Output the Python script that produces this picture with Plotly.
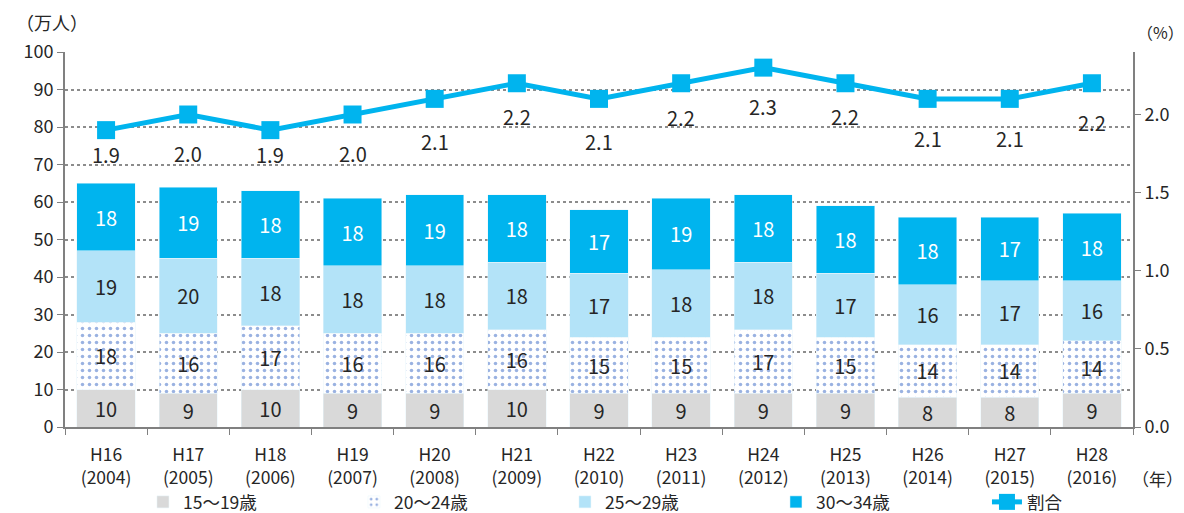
import plotly.graph_objects as go

# Fiscal years (Heisei era with Western year)
years = ["H16<br>(2004)", "H17<br>(2005)", "H18<br>(2006)", "H19<br>(2007)", "H20<br>(2008)",
         "H21<br>(2009)", "H22<br>(2010)", "H23<br>(2011)", "H24<br>(2012)", "H25<br>(2013)",
         "H26<br>(2014)", "H27<br>(2015)", "H28<br>(2016)"]

# Counts by age group (10,000 persons)
age_15_19 = [10, 9, 10, 9, 9, 10, 9, 9, 9, 9, 8, 8, 9]
age_20_24 = [18, 16, 17, 16, 16, 16, 15, 15, 17, 15, 14, 14, 14]
age_25_29 = [19, 20, 18, 18, 18, 18, 17, 18, 18, 17, 16, 17, 16]
age_30_34 = [18, 19, 18, 18, 19, 18, 17, 19, 18, 18, 18, 17, 18]

# Share (%)
ratio = [1.9, 2.0, 1.9, 2.0, 2.1, 2.2, 2.1, 2.2, 2.3, 2.2, 2.1, 2.1, 2.2]

# Vertical drop (px) of each share label below its marker
ratio_label_drop = [24, 39, 24, 39, 43, 33, 43, 34, 39, 33, 40, 40, 39]

FONT = "Noto Sans CJK JP"
TXT = "#262626"
BLUE = "#00b4ee"

fig = go.Figure()

def add_bar(name, values, color, txtcolor, pattern=None):
    fig.add_trace(go.Bar(
        x=years, y=values, name=name,
        marker=dict(color=color, line=dict(width=0.5, color="#e8f6fc"), pattern=pattern),
        text=[str(v) for v in values], textposition="inside", insidetextanchor="middle",
        textangle=0, constraintext="none",
        textfont=dict(size=20, color=txtcolor, family=FONT),
        width=0.71,
    ))

add_bar("15～19歳", age_15_19, "#d9d9d9", TXT)
add_bar("20～24歳", age_20_24, "#ffffff", TXT,
        pattern=dict(shape=".", fgcolor="#3566c4", bgcolor="#ffffff", size=7, solidity=0.2))
add_bar("25～29歳", age_25_29, "#b3e3f8", TXT)
add_bar("30～34歳", age_30_34, BLUE, "#ffffff")

fig.add_trace(go.Scatter(
    x=years, y=ratio, name="割合", yaxis="y2",
    mode="lines+markers",
    line=dict(color=BLUE, width=5),
    marker=dict(symbol="square", size=18, color=BLUE),
))

annotations = [
    dict(text=f"{v:.1f}", x=yr, y=v, xref="x", yref="y2", showarrow=False,
         yanchor="middle", yshift=-d, font=dict(size=20, color=TXT))
    for yr, v, d in zip(years, ratio, ratio_label_drop)
]
annotations += [
    dict(text="（万人）", x=-0.012, y=1.08, xref="paper", yref="paper", showarrow=False,
         xanchor="center", yanchor="middle", font=dict(size=18, color=TXT)),
    dict(text="（%）", x=1.0253, y=1.053, xref="paper", yref="paper", showarrow=False,
         xanchor="center", yanchor="middle", font=dict(size=16, color=TXT)),
    dict(text="（年）", x=1.0234, y=-0.136, xref="paper", yref="paper", showarrow=False,
         xanchor="center", yanchor="middle", font=dict(size=17, color=TXT)),
]

fig.update_layout(
    width=1184, height=513,
    margin=dict(l=65, r=51, t=52, b=86, autoexpand=False),
    barmode="stack",
    plot_bgcolor="#ffffff", paper_bgcolor="#ffffff",
    font=dict(family=FONT, size=17, color=TXT),
    showlegend=True,
    legend=dict(orientation="h", x=0.073, xanchor="left", y=-0.2, yanchor="middle",
                entrywidth=166, entrywidthmode="pixels", font=dict(size=17.5, color=TXT),
                traceorder="normal", bgcolor="rgba(0,0,0,0)"),
    xaxis=dict(
        range=[-0.5, len(years) - 0.5],
        showline=True, linecolor="#808080", linewidth=2,
        ticks="outside", tickson="boundaries", ticklen=6, tickcolor="#808080",
        tickfont=dict(size=17.5, color=TXT), ticklabelstandoff=11,
    ),
    yaxis=dict(
        range=[0, 100], dtick=10, showline=True, linecolor="#808080", linewidth=2,
        ticks="outside", ticklen=6, tickcolor="#808080",
        showgrid=True, gridcolor="#8c8c8c", griddash="dot", gridwidth=1.5,
        zeroline=False, tickfont=dict(size=18, color=TXT),
    ),
    yaxis2=dict(
        range=[0, 2.4], tickvals=[0, 0.5, 1.0, 1.5, 2.0], tickformat=".1f",
        overlaying="y", side="right", showline=True, linecolor="#808080", linewidth=2,
        ticks="outside", ticklen=6, tickcolor="#808080", showgrid=False, zeroline=False,
        tickfont=dict(size=18, color=TXT),
    ),
    annotations=annotations,
)

fig.write_html("out.html")
